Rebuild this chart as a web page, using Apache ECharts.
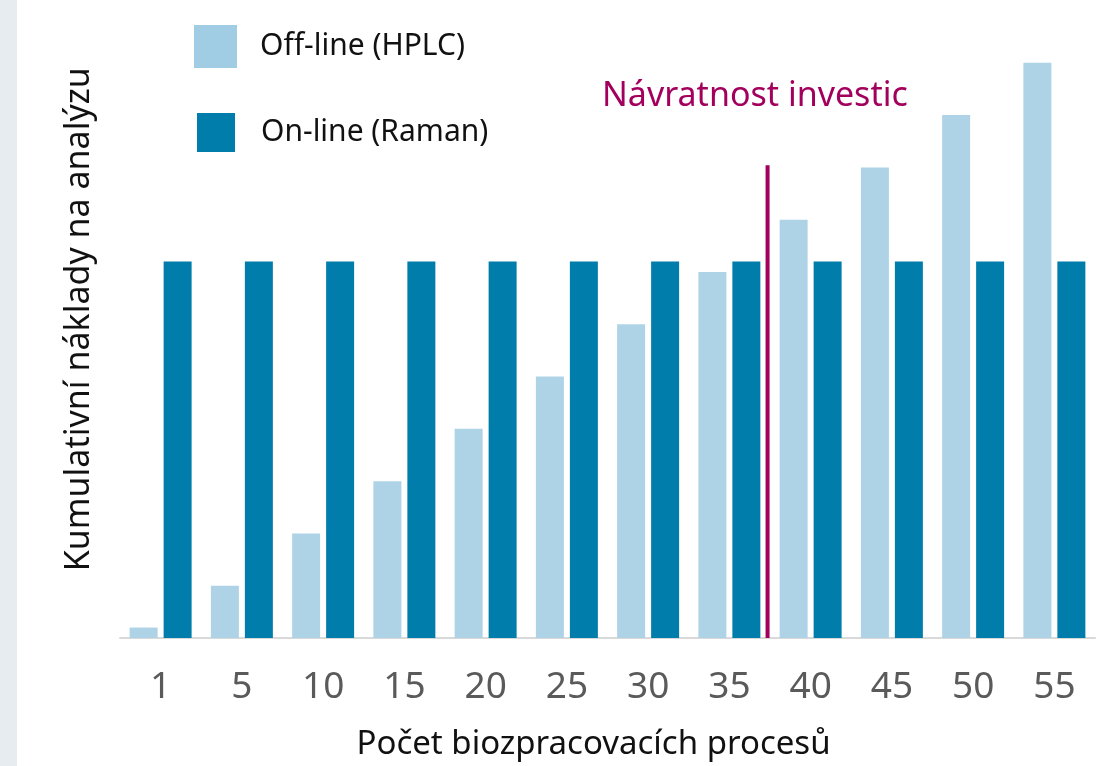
<!DOCTYPE html>
<html>
<head>
<meta charset="utf-8">
<script src="https://cdn.jsdelivr.net/npm/echarts@6/dist/echarts.min.js"></script>
<style>
html,body{margin:0;padding:0;background:#fff;}
#chart{width:1118px;height:766px;}
</style>
</head>
<body>
<div id="chart"></div>
<script>
// Data
const categories = ['1','5','10','15','20','25','30','35','40','45','50','55'];
const offlineHPLC = [1, 5, 10, 15, 20, 25, 30, 35, 40, 45, 50, 55];
const onlineRaman = [36, 36, 36, 36, 36, 36, 36, 36, 36, 36, 36, 36];
const breakEvenIndex = 7.47;   // position between categories "35" and "40"
const breakEvenTop = 45.2;     // height of the break-even marker line
const seriesNames = ['Off-line (HPLC)', 'On-line (Raman)'];
const annotation = 'Návratnost investic';
const xAxisTitle = 'Počet biozpracovacích procesů';
const yAxisTitle = 'Kumulativní náklady na analýzu';

const FONT = 'Noto Sans';
const chart = echarts.init(document.getElementById('chart'), null, {renderer: 'canvas'});

const option = {
  backgroundColor: '#ffffff',
  animation: false,
  textStyle: {fontFamily: FONT},
  graphic: [
    {type: 'rect', left: 0, top: 0, z: -10, shape: {width: 17, height: 766}, style: {fill: '#e7ecf0'}},
    {type: 'text', left: 602, top: 79, style: {text: annotation, fill: '#a3005e', font: '34px "Noto Sans"'}}
  ],
  legend: [
    {
      left: 189, top: 20, itemWidth: 43, itemHeight: 43, icon: 'rect',
      data: [{name: seriesNames[0], itemStyle: {color: '#a0cde4'}}],
      textStyle: {fontSize: 30, color: '#111', fontFamily: FONT, padding: [4, 0, 0, 18]},
      selectedMode: false
    },
    {
      left: 192, top: 108, itemWidth: 38, itemHeight: 39, icon: 'rect',
      data: [{name: seriesNames[1], itemStyle: {color: '#017dac'}}],
      textStyle: {fontSize: 30, color: '#111', fontFamily: FONT, padding: [6, 0, 0, 21]},
      selectedMode: false
    }
  ],
  grid: {left: 120, right: 23, top: 10.5, bottom: 126.5, containLabel: false},
  xAxis: [
    {
      type: 'category',
      data: categories,
      axisLine: {show: true, lineStyle: {color: '#d9d9d9', width: 2}},
      axisTick: {show: false},
      axisLabel: {color: '#5a5a5a', fontSize: 37, margin: 31, fontFamily: FONT},
      name: xAxisTitle,
      nameLocation: 'middle',
      nameGap: 90,
      nameTextStyle: {color: '#111', fontSize: 33, fontFamily: FONT, padding: [0, 28, 0, 0]}
    },
    {
      type: 'value', min: -0.5, max: categories.length - 0.5, show: false
    }
  ],
  yAxis: {
    type: 'value', min: 0, max: 60,
    axisLine: {show: false}, axisTick: {show: false}, axisLabel: {show: false}, splitLine: {show: false},
    name: yAxisTitle,
    nameLocation: 'middle',
    nameGap: 24,
    nameRotate: 90,
    nameTextStyle: {color: '#111', fontSize: 34, fontFamily: FONT, padding: [0, 0, 0, 10]}
  },
  series: [
    {
      name: seriesNames[0], type: 'bar', xAxisIndex: 0, data: offlineHPLC,
      barWidth: 28, barGap: '21.4%',
      itemStyle: {color: '#afd3e6'}
    },
    {
      name: seriesNames[1], type: 'bar', xAxisIndex: 0, data: onlineRaman,
      barWidth: 28,
      itemStyle: {color: '#017dac'}
    },
    {
      name: 'breakEven', type: 'line', xAxisIndex: 1, symbol: 'none',
      data: [[breakEvenIndex, 0], [breakEvenIndex, breakEvenTop]],
      lineStyle: {color: '#a3005e', width: 4}, z: 5
    }
  ]
};
chart.setOption(option);
</script>
</body>
</html>
